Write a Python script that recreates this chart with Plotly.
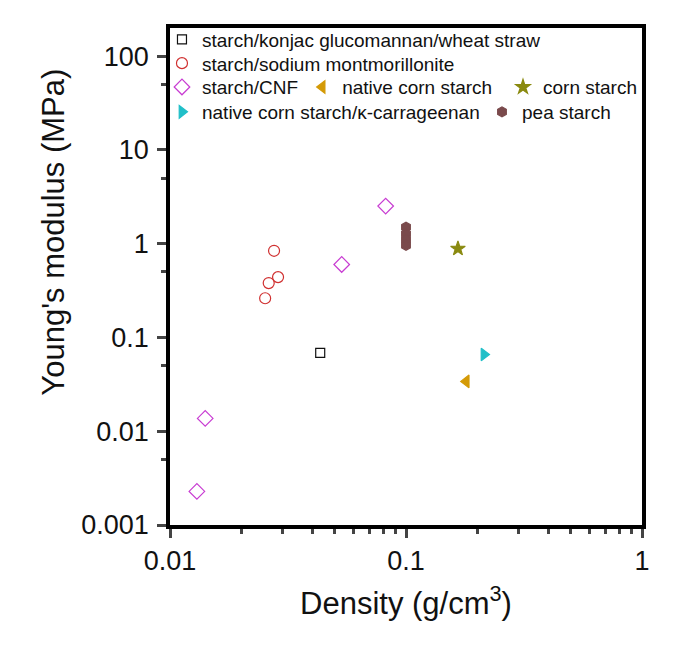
import plotly.graph_objects as go

FONT_FAMILY = 'Arial, Liberation Sans, sans-serif'

# density (g/cm3) and Young's modulus (MPa)
konjac_x = [0.0433]
konjac_y = [0.0686]

mmt_x = [0.0276, 0.0287, 0.0262, 0.0253]
mmt_y = [0.84, 0.44, 0.38, 0.262]

cnf_x = [0.0130, 0.0141, 0.0534, 0.082]
cnf_y = [0.00228, 0.0137, 0.60, 2.52]

native_x = [0.180]
native_y = [0.0340]

corn_x = [0.166]
corn_y = [0.885]

carrageenan_x = [0.214]
carrageenan_y = [0.0658]

pea_x = [0.1, 0.1, 0.1, 0.1]
pea_y = [1.5, 1.27, 1.1, 0.96]

y_ticks = [0.001, 0.01, 0.1, 1, 10, 100]
y_labels = ['0.001', '0.01', '0.1', '1', '10', '100']
x_ticks = [0.01, 0.1, 1]
x_labels = ['0.01', '0.1', '1']

fig = go.Figure()

series = [
    (konjac_x, konjac_y, 'starch/konjac glucomannan/wheat straw', 'square-open', 9, '#111111', 'legend'),
    (mmt_x, mmt_y, 'starch/sodium montmorillonite', 'circle-open', 11, '#d03030', 'legend2'),
    (cnf_x, cnf_y, 'starch/CNF', 'diamond-open', 12, '#c83cd2', 'legend3'),
    (native_x, native_y, 'native corn starch', 'triangle-left', 11, '#d49a06', 'legend4'),
    (corn_x, corn_y, 'corn starch', 'star', 11, '#8a8a10', 'legend5'),
    (carrageenan_x, carrageenan_y, 'native corn starch/\u03ba-carrageenan', 'triangle-right', 11, '#20bfc8', 'legend6'),
    (pea_x, pea_y, 'pea starch', 'hexagon', 10, '#7a4a4c', 'legend7'),
]

for x, y, name, symbol, size, color, leg in series:
    fig.add_trace(
        go.Scatter(
            x=x,
            y=y,
            mode='markers',
            name=name,
            legend=leg,
            marker=dict(symbol=symbol, size=size, color=color,
                        line=dict(color=color, width=1.2)),
        )
    )

legend_style = dict(
    orientation='h',
    xanchor='left',
    yanchor='middle',
    bgcolor='rgba(0,0,0,0)',
    font=dict(family=FONT_FAMILY, size=19, color='#111111'),
    itemsizing='trace',
)

fig.update_layout(
    width=675,
    height=657,
    template='simple_white',
    showlegend=True,
    margin=dict(l=162, r=41, t=20, b=140),
    font=dict(family=FONT_FAMILY, color='#111111'),
    legend=dict(legend_style, x=-0.017, y=0.977),
    legend2=dict(legend_style, x=-0.017, y=0.929),
    legend3=dict(legend_style, x=-0.017, y=0.881),
    legend4=dict(legend_style, x=0.280, y=0.881),
    legend5=dict(legend_style, x=0.7055, y=0.881),
    legend6=dict(legend_style, x=-0.017, y=0.831),
    legend7=dict(legend_style, x=0.661, y=0.831),
    xaxis=dict(
        type='log',
        range=[-2, 0],
        tickvals=x_ticks,
        ticktext=x_labels,
        ticks='outside',
        ticklen=9,
        tickwidth=3,
        linewidth=3.5,
        linecolor='black',
        mirror=True,
        showgrid=False,
        tickfont=dict(size=27),
        minor=dict(ticks='outside', ticklen=5, tickwidth=2.5,
                   tickvals=[0.02, 0.03, 0.04, 0.05, 0.06, 0.07, 0.08, 0.09,
                             0.2, 0.3, 0.4, 0.5, 0.6, 0.7, 0.8, 0.9]),
        title=dict(text='Density (g/cm<sup>3</sup>)', font=dict(size=31), standoff=18),
    ),
    yaxis=dict(
        type='log',
        range=[-3, 2.3],
        tickvals=y_ticks,
        ticktext=y_labels,
        ticks='outside',
        ticklen=9,
        tickwidth=3,
        linewidth=3.5,
        linecolor='black',
        mirror=True,
        showgrid=False,
        ticklabelstandoff=3,
        tickfont=dict(size=27),
        minor=dict(ticks='outside', ticklen=5, tickwidth=2.5,
                   tickvals=[0.005, 0.05, 0.5, 5, 50]),
    ),
    annotations=[
        dict(
            text="Young's modulus (MPa)",
            textangle=-90,
            xref='paper', yref='paper',
            x=-0.246, y=0.59,
            xanchor='center', yanchor='middle',
            showarrow=False,
            font=dict(size=31, family=FONT_FAMILY, color='#111111'),
        )
    ],
)

fig.write_html('out.html')
